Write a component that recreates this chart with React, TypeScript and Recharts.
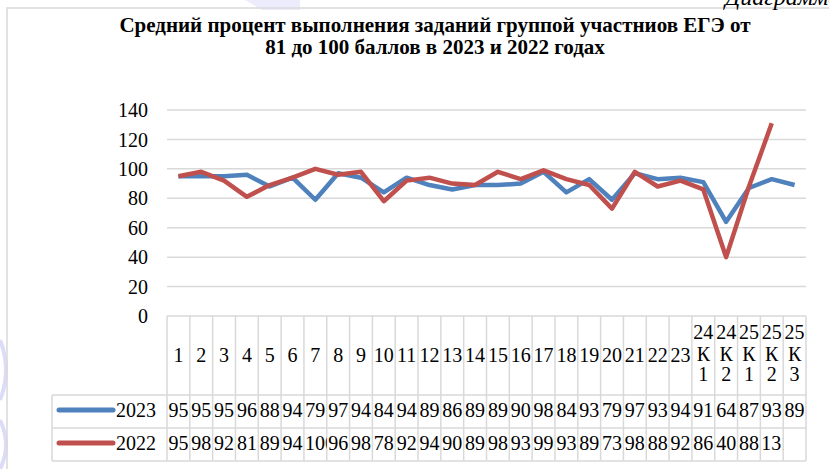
import { CartesianGrid, Line, LineChart, XAxis, YAxis } from "recharts";

// task numbers (24К1 = task 24, criterion 1, etc.)
const categories = [
    "1", "2", "3", "4", "5", "6", "7", "8", "9", "10", "11", "12", "13", "14",
    "15", "16", "17", "18", "19", "20", "21", "22", "23",
    "24К1", "24К2", "25К1", "25К2", "25К3",
];

const values2023 = [
    95, 95, 95, 96, 88, 94, 79, 97, 94, 84, 94, 89, 86, 89,
    89, 90, 98, 84, 93, 79, 97, 93, 94,
    91, 64, 87, 93, 89,
];

const values2022 = [
    95, 98, 92, 81, 89, 94, 100, 96, 98, 78, 92, 94, 90, 89,
    98, 93, 99, 93, 89, 73, 98, 88, 92,
    86, 40, 88, 131, null,
];

const yTicks = [0, 20, 40, 60, 80, 100, 120, 140];

const seriesNames = ["2023", "2022"];

const titleLines = [
    "Средний процент выполнения заданий группой участниов ЕГЭ от",
    "81 до 100 баллов в 2023 и 2022 годах",
];

const data = categories.map((name, i) => ({
    name,
    y2023: values2023[i],
    y2022: values2022[i],
}));

const W = 829;
const H = 469;
const PLOT_LEFT = 167;
const PLOT_RIGHT = 806;
const COL = (PLOT_RIGHT - PLOT_LEFT) / categories.length;
const FONT = "Liberation Serif, Times New Roman, serif";
const GRID = "#d9d9d9";
const BLUE = "#4f81bd";
const RED = "#c0504d";
const TABLE_LEFT = 52;

const txt = { fontFamily: FONT, fontSize: 20, fill: "#000" };

// value inside a table cell, clipped to the cell like the spreadsheet does
function CellValue({ x, y, v, id }: { x: number; y: number; v: number | null; id: string }) {
    if (v == null) return null;
    const half = COL / 2;
    const wide = String(v).length > 2;
    return (
        <g>
            <clipPath id={id}>
                <rect x={x - half} y={y - 16} width={COL} height={32} />
            </clipPath>
            <text
                x={wide ? x - half + 1 : x}
                y={y}
                dy="0.35em"
                textAnchor={wide ? "start" : "middle"}
                clipPath={`url(#${id})`}
                style={txt}
            >
                {v}
            </text>
        </g>
    );
}

function TableTick(props: any) {
    const { x, y, index, payload } = props;
    const half = COL / 2;
    const catBottom = y + 79;
    const row1 = y + 112;
    const row2 = y + 145;
    const label: string = String(payload.value);
    const lines =
        label.length > 2 ? [label.slice(0, 2), label[2], label.slice(3)] : [label];
    const lineYs = lines.length > 1 ? [y + 16, y + 38, y + 58] : [y + 39];

    return (
        <g>
            {/* cell borders */}
            <line x1={x + half} x2={x + half} y1={y} y2={row2} stroke={GRID} strokeWidth={1.5} />
            {index === 0 && (
                <line x1={x - half} x2={x - half} y1={y} y2={row2} stroke={GRID} strokeWidth={1.5} />
            )}
            {[catBottom, row1, row2].map((ly) => (
                <line key={ly} x1={x - half} x2={x + half} y1={ly} y2={ly} stroke={GRID} strokeWidth={1.5} />
            ))}
            {lines.map((t, i) => (
                <text key={i} x={x} y={lineYs[i]} dy="0.35em" textAnchor="middle" style={txt}>
                    {t}
                </text>
            ))}
            <CellValue x={x} y={y + 94} v={values2023[index]} id={`c23-${index}`} />
            <CellValue x={x} y={y + 127} v={values2022[index]} id={`c22-${index}`} />
            {/* legend column */}
            {index === 0 && (
                <g>
                    <line x1={TABLE_LEFT} x2={TABLE_LEFT} y1={catBottom} y2={row2} stroke={GRID} strokeWidth={1.5} />
                    {[catBottom, row1, row2].map((ly) => (
                        <line key={ly} x1={TABLE_LEFT} x2={x - half} y1={ly} y2={ly} stroke={GRID} strokeWidth={1.5} />
                    ))}
                    <line x1={59} x2={113} y1={y + 94} y2={y + 94} stroke={BLUE} strokeWidth={5} strokeLinecap="round" />
                    <text x={116} y={y + 94} dy="0.35em" style={txt}>
                        {seriesNames[0]}
                    </text>
                    <line x1={59} x2={113} y1={y + 127} y2={y + 127} stroke={RED} strokeWidth={5} strokeLinecap="round" />
                    <text x={116} y={y + 127} dy="0.35em" style={txt}>
                        {seriesNames[1]}
                    </text>
                </g>
            )}
        </g>
    );
}

export default function App() {
    return (
        <div style={{ position: "absolute", left: 0, top: 0, width: W, height: H, background: "#fff" }}>
            <svg width={W} height={H} style={{ position: "absolute", left: 0, top: 0 }}>
                {/* faint watermark bits */}
                <path d="M0 340 Q12 370 0 400" stroke="#dcdcf8" strokeWidth={4} fill="none" />
                <path d="M0 420 Q12 445 0 469" stroke="#dcdcf8" strokeWidth={4} fill="none" />
                <path d="M245 0 L262 10 L300 10 L300 0 Z" fill="#ececfc" />
                <rect x={7} y={8} width={W} height={H} fill="none" stroke={GRID} strokeWidth={1.5} />
                <text x={725} y={5} style={{ fontFamily: FONT, fontSize: 24, fontStyle: "italic" }} fill="#000">
                    Диаграмма
                </text>
                {titleLines.map((t, i) => (
                    <text
                        key={i}
                        x={435}
                        y={32 + i * 22}
                        textAnchor="middle"
                        style={{ fontFamily: FONT, fontWeight: "bold", fontSize: 21 }}
                        fill="#000"
                    >
                        {t}
                    </text>
                ))}
            </svg>
            <div style={{ position: "absolute", left: 0, top: 0 }}>
                <LineChart
                    width={W}
                    height={H}
                    data={data}
                    margin={{ top: 110, right: W - PLOT_RIGHT, bottom: 8, left: PLOT_LEFT - 60 }}
                >
                    <CartesianGrid vertical={false} stroke={GRID} strokeWidth={1.5} />
                    <XAxis
                        dataKey="name"
                        height={145}
                        axisLine={false}
                        tickLine={false}
                        tickSize={0}
                        tickMargin={0}
                        interval={0}
                        padding={{ left: COL / 2, right: COL / 2 }}
                        tick={<TableTick />}
                    />
                    <YAxis
                        width={60}
                        domain={[0, 140]}
                        ticks={yTicks}
                        axisLine={false}
                        tickLine={false}
                        tickSize={0}
                        tickMargin={19}
                        tick={{ fontFamily: FONT, fontSize: 20, fill: "#000" }}
                    />
                    <Line
                        dataKey="y2023"
                        stroke={BLUE}
                        strokeWidth={4.5}
                        dot={false}
                        strokeLinejoin="round"
                        isAnimationActive={false}
                    />
                    <Line
                        dataKey="y2022"
                        stroke={RED}
                        strokeWidth={4.5}
                        dot={false}
                        strokeLinejoin="round"
                        isAnimationActive={false}
                    />
                </LineChart>
            </div>
        </div>
    );
}
